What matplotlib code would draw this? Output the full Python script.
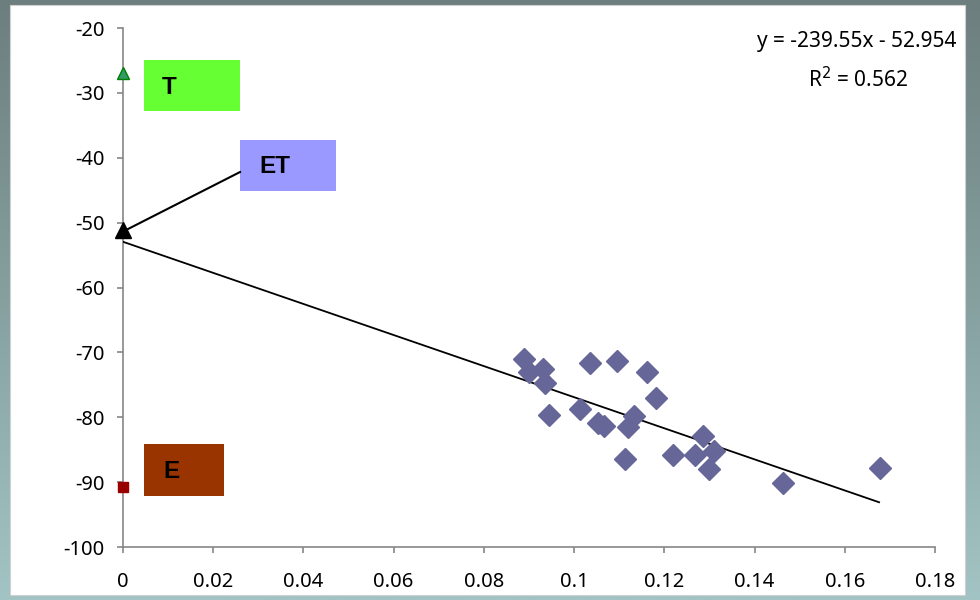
import numpy as np
import matplotlib.pyplot as plt
from matplotlib.patches import Rectangle
from matplotlib.colors import LinearSegmentedColormap

# scatter data
x_pts = [0.0890, 0.0899, 0.0932, 0.0936, 0.1035, 0.1096, 0.1161, 0.1182,
         0.0945, 0.1013, 0.1054, 0.1067, 0.1133, 0.1120, 0.1112, 0.1219,
         0.1285, 0.1268, 0.1309, 0.1298, 0.1462, 0.1678]
y_pts = [-71.0, -73.0, -72.5, -74.7, -71.7, -71.3, -73.0, -77.0,
         -79.7, -78.7, -80.9, -81.3, -79.8, -81.5, -86.5, -85.8,
         -82.9, -85.8, -85.2, -87.9, -90.1, -87.8]

# end members
t_val = -26.9
et_val = -51.2
e_val = -90.8

# trend line
slope = -239.55
intercept = -52.954
r2 = 0.562
fit_x = [0.0, 0.1676]

x_ticks = [0, 0.02, 0.04, 0.06, 0.08, 0.1, 0.12, 0.14, 0.16, 0.18]
x_labels = ["0", "0.02", "0.04", "0.06", "0.08", "0.1", "0.12", "0.14", "0.16", "0.18"]
y_ticks = [-100, -90, -80, -70, -60, -50, -40, -30, -20]

plt.rcParams["font.family"] = ["Noto Sans", "DejaVu Sans"]
plt.rcParams["axes.unicode_minus"] = False

fig = plt.figure(figsize=(9.8, 6), dpi=100)

# gray/teal frame behind the white chart area
bg = fig.add_axes([0, 0, 1, 1], zorder=-10)
grad = np.linspace(0, 1, 256).reshape(-1, 1)
cmap = LinearSegmentedColormap.from_list("frame", ["#6d7e7e", "#86a0a0", "#a3c4c4"])
bg.imshow(grad, aspect="auto", cmap=cmap, extent=[0, 1, 0, 1], origin="upper")
bg.add_patch(Rectangle((10 / 980, 5 / 600), 955 / 980, 590 / 600,
                       facecolor="white", edgecolor="#d0d0d0", lw=0.8))
bg.set_xlim(0, 1)
bg.set_ylim(0, 1)
bg.axis("off")

ax = fig.add_axes([123 / 980, 53 / 600, 812 / 980, 519 / 600])
ax.set_facecolor("none")

fx = np.array(fit_x)
ax.plot(fx, slope * fx + intercept, color="black", lw=1.3, zorder=3)
ax.plot(x_pts, y_pts, "D", color="#666699", ms=11, mec="#666699", zorder=4, clip_on=False)

# label boxes
boxes = [
    ((0.00466, -32.79), 0.02128, 7.86, "#66ff33", "T", (0.0087, -29.1)),
    ((0.02594, -45.13), 0.02129, 7.87, "#9999ff", "ET", (0.0302, -41.4)),
    ((0.00466, -92.14), 0.01774, 8.02, "#993300", "E", (0.0089, -88.3)),
]
for (bx, by), w, h, col, lab, (tx, ty) in boxes:
    ax.add_patch(Rectangle((bx, by), w, h, facecolor=col, edgecolor="none", zorder=2))
    ax.text(tx, ty, lab, fontsize=17.5, fontweight="bold", ha="left", va="center",
            family=["Liberation Sans", "DejaVu Sans"], zorder=5)

# connector from ET marker to ET box
ax.plot([0.0005, 0.02594], [et_val, -42.2], color="black", lw=1.5, zorder=3)

ax.plot([0], [t_val], "^", color="#339966", mec="#008000", ms=9, zorder=6, clip_on=False)
ax.plot([0], [et_val], "^", color="black", ms=12, zorder=6, clip_on=False)
ax.plot([0], [e_val], "s", color="#990000", ms=7.5, zorder=6, clip_on=False)

ax.text(0.1627, -22.1, f"y = {slope}x - {-intercept}", fontsize=15, ha="center", va="center")
ax.text(0.1629, -27.9, f"R$^2$ = {r2}", fontsize=15, ha="center", va="center")

ax.set_xlim(0, 0.18)
ax.set_ylim(-100, -20)
ax.set_xticks(x_ticks)
ax.set_xticklabels(x_labels)
ax.set_yticks(y_ticks)
for s in ["top", "right"]:
    ax.spines[s].set_visible(False)
for s in ["left", "bottom"]:
    ax.spines[s].set_color("#868686")
    ax.spines[s].set_linewidth(1.2)
ax.tick_params(axis="both", colors="#868686", labelcolor="black", labelsize=14.5,
               length=4, width=1.2, direction="out")
ax.tick_params(axis="x", pad=14)
ax.tick_params(axis="y", pad=9)

fig.savefig("out.png", dpi=100)
